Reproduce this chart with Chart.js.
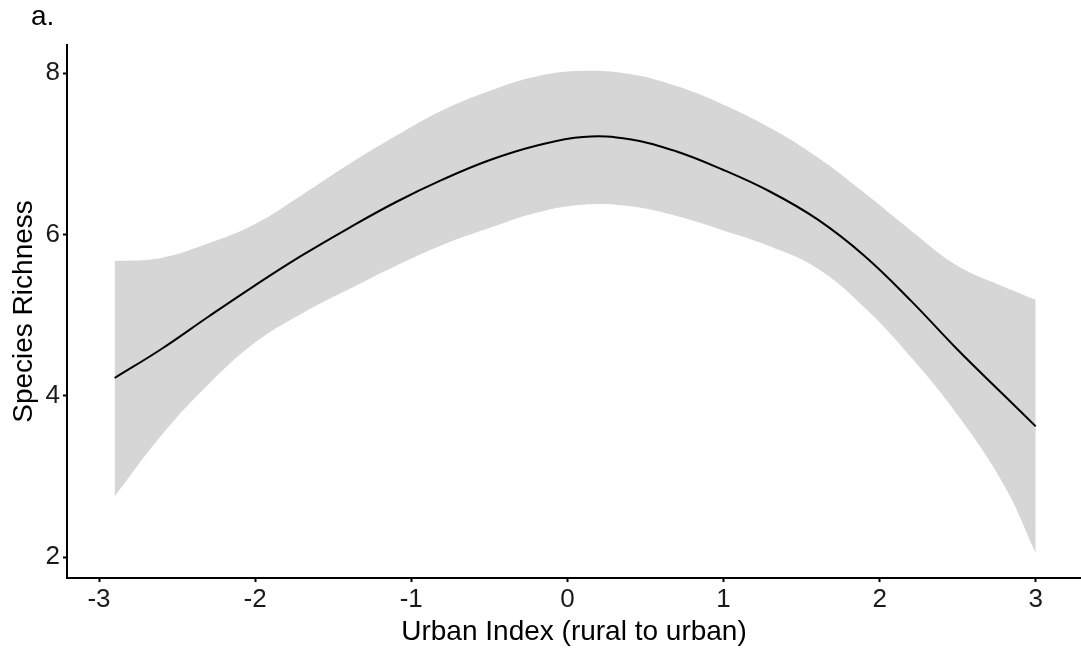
<!DOCTYPE html>
<html>
<head>
<meta charset="utf-8">
<script src="https://cdn.jsdelivr.net/npm/chart.js@4/dist/chart.umd.min.js"></script>
<style>
  html, body { margin: 0; padding: 0; background: #ffffff; overflow: hidden; }
  #wrap { position: relative; width: 1081px; height: 649px; }
</style>
</head>
<body>
<div id="wrap"><canvas id="c" width="1081" height="649"></canvas></div>
<script>
// Urban index values (x)
const urbanIndex = [-2.9, -2.6, -2.3, -2.0, -1.7, -1.4, -1.1, -0.8, -0.5, -0.2, 0.1, 0.4, 0.7, 1.0, 1.3, 1.6, 1.9, 2.2, 2.5, 2.8, 3.0];
// Fitted species richness
const fitted = [4.22, 4.58, 4.98, 5.37, 5.74, 6.08, 6.40, 6.68, 6.92, 7.10, 7.21, 7.18, 7.03, 6.80, 6.53, 6.19, 5.74, 5.18, 4.57, 4.00, 3.62];
// Confidence band
const upperCI = [5.67, 5.71, 5.89, 6.13, 6.49, 6.87, 7.22, 7.54, 7.78, 7.96, 8.03, 7.99, 7.84, 7.61, 7.32, 6.96, 6.52, 6.05, 5.61, 5.35, 5.19];
const lowerCI = [2.75, 3.51, 4.14, 4.66, 5.02, 5.32, 5.61, 5.87, 6.08, 6.27, 6.37, 6.35, 6.23, 6.05, 5.85, 5.58, 5.10, 4.48, 3.76, 2.88, 2.05];
// Tick labels
const xTicks = [-3, -2, -1, 0, 1, 2, 3];
const yTicks = [2, 4, 6, 8];

const toPts = (ys) => urbanIndex.map((x, i) => ({ x: x, y: ys[i] }));

const FONT = "'Liberation Sans', Arial, sans-serif";

const panelLabel = {
  id: 'panelLabel',
  afterDraw(chart) {
    const ctx = chart.ctx;
    ctx.save();
    ctx.fillStyle = '#000000';
    ctx.font = "28px " + FONT;
    ctx.textBaseline = 'alphabetic';
    ctx.textAlign = 'left';
    ctx.fillText('a.', 31, 25);
    ctx.restore();
  }
};

new Chart(document.getElementById('c'), {
  type: 'line',
  data: {
    datasets: [
      {
        label: 'upper',
        data: toPts(upperCI),
        borderWidth: 0,
        borderColor: 'rgba(0,0,0,0)',
        backgroundColor: '#d6d6d6',
        pointRadius: 0,
        fill: '+1',
        tension: 0.4,
        order: 2
      },
      {
        label: 'lower',
        data: toPts(lowerCI),
        borderWidth: 0,
        borderColor: 'rgba(0,0,0,0)',
        backgroundColor: '#d6d6d6',
        pointRadius: 0,
        fill: false,
        tension: 0.4,
        order: 2
      },
      {
        label: 'fit',
        data: toPts(fitted),
        borderWidth: 2,
        borderColor: '#000000',
        pointRadius: 0,
        fill: false,
        tension: 0.4,
        order: 1
      }
    ]
  },
  options: {
    responsive: false,
    animation: false,
    events: [],
    layout: { padding: { top: 45, left: 0, right: 0, bottom: 0 } },
    plugins: {
      legend: { display: false },
      tooltip: { enabled: false },
      title: { display: false }
    },
    scales: {
      x: {
        type: 'linear',
        min: -3.205,
        max: 3.29,
        afterBuildTicks: (s) => { s.ticks = xTicks.map(v => ({ value: v })); },
        afterFit: (s) => { s.height = 71; },
        grid: { drawOnChartArea: false, drawTicks: true, tickLength: 4, tickColor: '#000000', tickWidth: 2 },
        border: { display: true, color: '#000000', width: 2 },
        ticks: { color: '#1a1a1a', font: { family: FONT, size: 26 }, padding: 2, maxRotation: 0, autoSkip: false },
        title: { display: true, text: 'Urban Index (rural to urban)', color: '#000000', font: { family: FONT, size: 28 }, padding: { top: 0, bottom: 0 } }
      },
      y: {
        type: 'linear',
        min: 1.74,
        max: 8.35,
        afterBuildTicks: (s) => { s.ticks = yTicks.map(v => ({ value: v })); },
        afterFit: (s) => { s.width = 67; },
        grid: { drawOnChartArea: false, drawTicks: true, tickLength: 4, tickColor: '#000000', tickWidth: 2 },
        border: { display: true, color: '#000000', width: 2 },
        ticks: { color: '#1a1a1a', font: { family: FONT, size: 26 }, padding: 3 },
        title: { display: true, text: 'Species Richness', color: '#000000', font: { family: FONT, size: 28 }, padding: { top: 7, bottom: 0 } }
      }
    }
  },
  plugins: [panelLabel]
});
</script>
</body>
</html>
